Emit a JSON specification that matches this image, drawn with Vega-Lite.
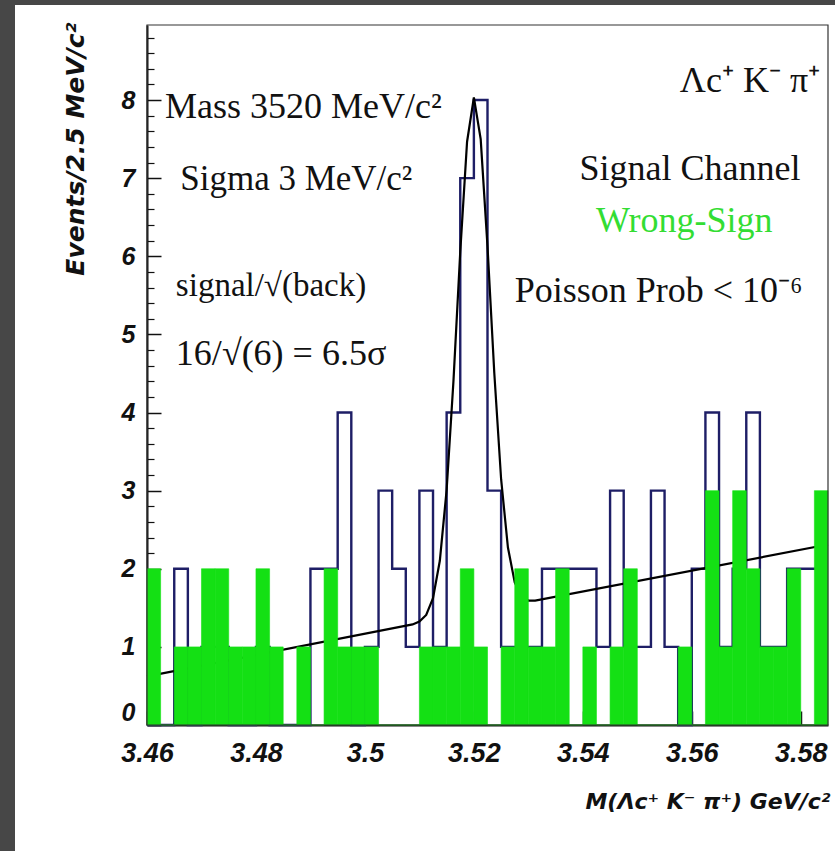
{
  "$schema": "https://vega.github.io/schema/vega-lite/v6.json",
  "autosize": "none",
  "padding": {"left": 15, "top": 5, "right": 0, "bottom": 0},
  "width": 820,
  "height": 846,
  "background": "#474747",
  "config": {
    "view": {"fill": "white", "stroke": null},
    "axis": {
      "zindex": 1,
      "labelFont": "Liberation Sans",
      "labelFontWeight": "bold",
      "labelFontStyle": "italic",
      "labelColor": "#111",
      "titleFont": "DejaVu Sans",
      "titleFontWeight": "bold",
      "titleFontStyle": "italic",
      "titleColor": "#111",
      "domainColor": "#111",
      "tickColor": "#111",
      "grid": false,
      "labelOverlap": false,
      "labelFlush": false
    }
  },
  "datasets": {
    "bins": [
      {"lo": 3.46, "hi": 3.4625, "signal": 0, "wrongsign": 2},
      {"lo": 3.4625, "hi": 3.465, "signal": 0, "wrongsign": 0},
      {"lo": 3.465, "hi": 3.4675, "signal": 2, "wrongsign": 1},
      {"lo": 3.4675, "hi": 3.47, "signal": 0, "wrongsign": 1},
      {"lo": 3.47, "hi": 3.4725, "signal": 1, "wrongsign": 2},
      {"lo": 3.4725, "hi": 3.475, "signal": 1, "wrongsign": 2},
      {"lo": 3.475, "hi": 3.4775, "signal": 0, "wrongsign": 1},
      {"lo": 3.4775, "hi": 3.48, "signal": 0, "wrongsign": 1},
      {"lo": 3.48, "hi": 3.4825, "signal": 1, "wrongsign": 2},
      {"lo": 3.4825, "hi": 3.485, "signal": 0, "wrongsign": 1},
      {"lo": 3.485, "hi": 3.4875, "signal": 0, "wrongsign": 0},
      {"lo": 3.4875, "hi": 3.49, "signal": 0, "wrongsign": 1},
      {"lo": 3.49, "hi": 3.4925, "signal": 2, "wrongsign": 0},
      {"lo": 3.4925, "hi": 3.495, "signal": 2, "wrongsign": 2},
      {"lo": 3.495, "hi": 3.4975, "signal": 4, "wrongsign": 1},
      {"lo": 3.4975, "hi": 3.5, "signal": 0, "wrongsign": 1},
      {"lo": 3.5, "hi": 3.5025, "signal": 1, "wrongsign": 1},
      {"lo": 3.5025, "hi": 3.505, "signal": 3, "wrongsign": 0},
      {"lo": 3.505, "hi": 3.5075, "signal": 2, "wrongsign": 0},
      {"lo": 3.5075, "hi": 3.51, "signal": 1, "wrongsign": 0},
      {"lo": 3.51, "hi": 3.5125, "signal": 3, "wrongsign": 1},
      {"lo": 3.5125, "hi": 3.515, "signal": 1, "wrongsign": 1},
      {"lo": 3.515, "hi": 3.5175, "signal": 4, "wrongsign": 1},
      {"lo": 3.5175, "hi": 3.52, "signal": 7, "wrongsign": 2},
      {"lo": 3.52, "hi": 3.5225, "signal": 8, "wrongsign": 1},
      {"lo": 3.5225, "hi": 3.525, "signal": 3, "wrongsign": 0},
      {"lo": 3.525, "hi": 3.5275, "signal": 1, "wrongsign": 1},
      {"lo": 3.5275, "hi": 3.53, "signal": 1, "wrongsign": 2},
      {"lo": 3.53, "hi": 3.5325, "signal": 1, "wrongsign": 1},
      {"lo": 3.5325, "hi": 3.535, "signal": 2, "wrongsign": 1},
      {"lo": 3.535, "hi": 3.5375, "signal": 2, "wrongsign": 2},
      {"lo": 3.5375, "hi": 3.54, "signal": 2, "wrongsign": 0},
      {"lo": 3.54, "hi": 3.5425, "signal": 2, "wrongsign": 1},
      {"lo": 3.5425, "hi": 3.545, "signal": 1, "wrongsign": 0},
      {"lo": 3.545, "hi": 3.5475, "signal": 3, "wrongsign": 1},
      {"lo": 3.5475, "hi": 3.55, "signal": 1, "wrongsign": 2},
      {"lo": 3.55, "hi": 3.5525, "signal": 1, "wrongsign": 0},
      {"lo": 3.5525, "hi": 3.555, "signal": 3, "wrongsign": 0},
      {"lo": 3.555, "hi": 3.5575, "signal": 1, "wrongsign": 0},
      {"lo": 3.5575, "hi": 3.56, "signal": 0, "wrongsign": 1},
      {"lo": 3.56, "hi": 3.5625, "signal": 2, "wrongsign": 0},
      {"lo": 3.5625, "hi": 3.565, "signal": 4, "wrongsign": 3},
      {"lo": 3.565, "hi": 3.5675, "signal": 1, "wrongsign": 1},
      {"lo": 3.5675, "hi": 3.57, "signal": 2, "wrongsign": 3},
      {"lo": 3.57, "hi": 3.5725, "signal": 4, "wrongsign": 2},
      {"lo": 3.5725, "hi": 3.575, "signal": 1, "wrongsign": 1},
      {"lo": 3.575, "hi": 3.5775, "signal": 1, "wrongsign": 1},
      {"lo": 3.5775, "hi": 3.58, "signal": 2, "wrongsign": 2},
      {"lo": 3.58, "hi": 3.5825, "signal": 2, "wrongsign": 0},
      {"lo": 3.5825, "hi": 3.585, "signal": 2, "wrongsign": 3}
    ],
    "fit": [
      {"m": 3.46, "f": 0.623},
      {"m": 3.50875, "f": 1.287},
      {"m": 3.51, "f": 1.323},
      {"m": 3.51125, "f": 1.409},
      {"m": 3.5125, "f": 1.622},
      {"m": 3.51375, "f": 2.102},
      {"m": 3.515, "f": 3.011},
      {"m": 3.51625, "f": 4.402},
      {"m": 3.5175, "f": 6.059},
      {"m": 3.51875, "f": 7.466},
      {"m": 3.52, "f": 8.033},
      {"m": 3.52125, "f": 7.5},
      {"m": 3.5225, "f": 6.127},
      {"m": 3.52375, "f": 4.503},
      {"m": 3.525, "f": 3.146},
      {"m": 3.52625, "f": 2.271},
      {"m": 3.5275, "f": 1.824},
      {"m": 3.52875, "f": 1.645},
      {"m": 3.53, "f": 1.593},
      {"m": 3.53125, "f": 1.591},
      {"m": 3.585, "f": 2.31}
    ]
  },
  "resolve": {"axis": {"x": "independent", "y": "independent"}},
  "layer": [
    {
      "description": "Signal channel: open histogram outline",
      "data": {"name": "bins"},
      "transform": [{"fold": ["lo", "hi"], "as": ["edge", "m"]}],
      "mark": {"type": "line", "color": "#1e1e66", "strokeWidth": 2.4, "strokeJoin": "miter", "clip": true},
      "encoding": {
        "x": {"field": "m", "type": "quantitative",
              "scale": {"domain": [3.46, 3.585], "range": [132, 813], "nice": false, "zero": false},
              "axis": null},
        "y": {"field": "signal", "type": "quantitative",
              "scale": {"domain": [0, 8.96], "range": [720, 20], "nice": false, "zero": false},
              "axis": {"orient": "left", "offset": -132, "values": [0.2,0.4,0.6,0.8,1.2,1.4,1.6,1.8,2.2,2.4,2.6,2.8,3.2,3.4,3.6,3.8,4.2,4.4,4.6,4.8,5.2,5.4,5.6,5.8,6.2,6.4,6.6,6.8,7.2,7.4,7.6,7.8,8.2,8.4,8.6,8.8],
                       "labels": false, "domain": false, "title": null, "tickSize": -7, "tickWidth": 1.2}},
        "order": [{"field": "m", "type": "quantitative"}, {"field": "edge", "type": "nominal"}]
      }
    },
    {
      "description": "Fit: gaussian peak on a linear background",
      "data": {"name": "fit"},
      "mark": {"type": "line", "color": "#000", "strokeWidth": 2.2},
      "encoding": {
        "x": {"field": "m", "type": "quantitative", "axis": null},
        "y": {"field": "f", "type": "quantitative", "axis": null}
      }
    },
    {
      "description": "Wrong-sign: filled histogram",
      "data": {"name": "bins"},
      "mark": {"type": "rect", "color": "#14e014", "stroke": "#14e014", "strokeWidth": 0.6},
      "encoding": {
        "x": {"field": "lo", "type": "quantitative",
              "axis": {"orient": "bottom", "offset": -126, "values": [3.46, 3.48, 3.5, 3.52, 3.54, 3.56, 3.58],
                       "format": ".2~f", "labelFontSize": 27, "labelPadding": 29, "tickSize": -14, "tickWidth": 1.5,
                       "domainWidth": 2,
                       "title": "M(Λc⁺ K⁻ π⁺) GeV/c²", "titleFontSize": 22, "titleAnchor": "end", "titleAlign": "right",
                       "titleX": 815, "titleY": 83, "titleBaseline": "alphabetic"}},
        "x2": {"field": "hi"},
        "y": {"field": "wrongsign", "type": "quantitative",
              "axis": {"orient": "left", "offset": -132, "values": [0, 1, 2, 3, 4, 5, 6, 7, 8],
                       "labelFontSize": 25, "labelPadding": 26, "tickSize": -14, "tickWidth": 1.5, "domainWidth": 2,
                       "labelBaseline": {"expr": "datum.value == 0 ? 'bottom' : 'middle'"},
                       "title": "Events/2.5 MeV/c²", "titleFontSize": 25, "titleAngle": -90,
                       "titleAlign": "right", "titleBaseline": "middle", "titleX": -72, "titleY": 17}},
        "y2": {"datum": 0}
      }
    },
    {
      "description": "Plot frame",
      "data": {"values": [{}]},
      "mark": {"type": "rect", "fill": null, "stroke": "#333", "strokeWidth": 1.2},
      "encoding": {
        "x": {"datum": 3.46, "type": "quantitative", "axis": null},
        "x2": {"datum": 3.585},
        "y": {"datum": 0, "type": "quantitative", "axis": null},
        "y2": {"datum": 8.96}
      }
    },
    {
      "data": {"values": [{}]},
      "mark": {"type": "text", "font": "Liberation Serif", "fontSize": 36, "align": "left", "baseline": "alphabetic", "color": "#111"},
      "encoding": {"x": {"datum": 3.4633, "type": "quantitative", "axis": null}, "y": {"datum": 7.77, "type": "quantitative", "axis": null}, "text": {"value": "Mass 3520 MeV/c²"}}
    },
    {
      "data": {"values": [{}]},
      "mark": {"type": "text", "font": "Liberation Serif", "fontSize": 35, "align": "left", "baseline": "alphabetic", "color": "#111"},
      "encoding": {"x": {"datum": 3.4661, "type": "quantitative", "axis": null}, "y": {"datum": 6.85, "type": "quantitative", "axis": null}, "text": {"value": "Sigma 3 MeV/c²"}}
    },
    {
      "data": {"values": [{}]},
      "mark": {"type": "text", "font": "Liberation Serif", "fontSize": 33, "align": "left", "baseline": "alphabetic", "color": "#111"},
      "encoding": {"x": {"datum": 3.4653, "type": "quantitative", "axis": null}, "y": {"datum": 5.49, "type": "quantitative", "axis": null}, "text": {"value": "signal/√(back)"}}
    },
    {
      "data": {"values": [{}]},
      "mark": {"type": "text", "font": "Liberation Serif", "fontSize": 36, "align": "left", "baseline": "alphabetic", "color": "#111"},
      "encoding": {"x": {"datum": 3.4653, "type": "quantitative", "axis": null}, "y": {"datum": 4.61, "type": "quantitative", "axis": null}, "text": {"value": "16/√(6) = 6.5σ"}}
    },
    {
      "data": {"values": [{}]},
      "mark": {"type": "text", "font": "Liberation Serif", "fontSize": 36, "align": "left", "baseline": "alphabetic", "color": "#111"},
      "encoding": {"x": {"datum": 3.5578, "type": "quantitative", "axis": null}, "y": {"datum": 8.1, "type": "quantitative", "axis": null}, "text": {"value": "Λc⁺ K⁻ π⁺"}}
    },
    {
      "data": {"values": [{}]},
      "mark": {"type": "text", "font": "Liberation Serif", "fontSize": 36, "align": "left", "baseline": "alphabetic", "color": "#111"},
      "encoding": {"x": {"datum": 3.5394, "type": "quantitative", "axis": null}, "y": {"datum": 6.98, "type": "quantitative", "axis": null}, "text": {"value": "Signal Channel"}}
    },
    {
      "data": {"values": [{}]},
      "mark": {"type": "text", "font": "Liberation Serif", "fontSize": 36, "align": "left", "baseline": "alphabetic", "color": "#33dd33"},
      "encoding": {"x": {"datum": 3.5424, "type": "quantitative", "axis": null}, "y": {"datum": 6.31, "type": "quantitative", "axis": null}, "text": {"value": "Wrong-Sign"}}
    },
    {
      "data": {"values": [{}]},
      "mark": {"type": "text", "font": "Liberation Serif", "fontSize": 36, "align": "left", "baseline": "alphabetic", "color": "#111"},
      "encoding": {"x": {"datum": 3.5275, "type": "quantitative", "axis": null}, "y": {"datum": 5.41, "type": "quantitative", "axis": null}, "text": {"value": "Poisson Prob < 10⁻⁶"}}
    }
  ]
}
